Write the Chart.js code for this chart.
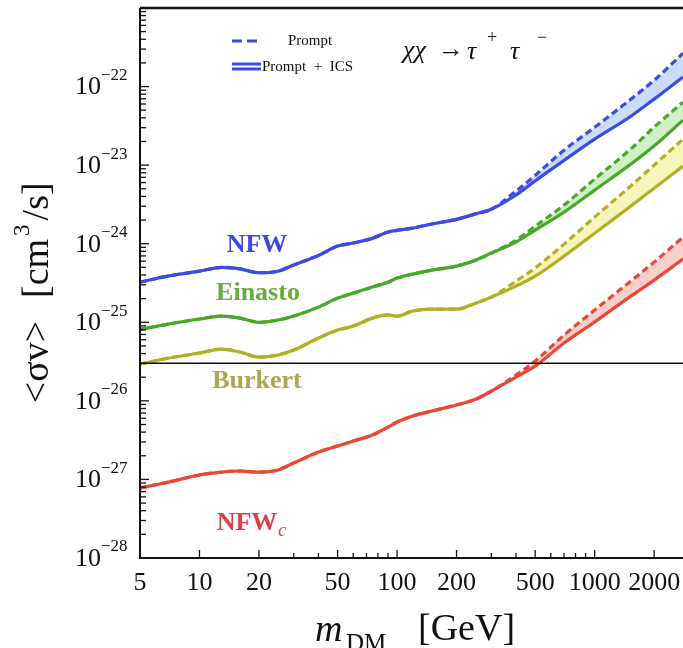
<!DOCTYPE html>
<html>
<head>
<meta charset="utf-8">
<script src="https://cdn.jsdelivr.net/npm/chart.js@4.4.1/dist/chart.umd.min.js"></script>
<style>
  html, body { margin: 0; padding: 0; background: #fff; }
  #limits { display: block; }
</style>
</head>
<body>
<canvas id="limits" width="683" height="648"></canvas>
<script>
// DM mass grid [GeV]
const masses = [5, 7, 10, 13, 16, 20, 25, 30, 40, 50, 60, 75, 90, 100, 120, 150, 200, 250, 300, 400, 500, 700, 1000, 1500, 2000, 2800];

// <sigma v> limits [cm^3/s], prompt + ICS (solid) and prompt only (dashed)
const nfwICS = [3.24e-25, 3.89e-25, 4.47e-25, 5.01e-25, 4.79e-25, 4.27e-25, 4.47e-25, 5.37e-25, 7.08e-25, 9.33e-25, 1.02e-24, 1.17e-24, 1.41e-24, 1.48e-24, 1.58e-24, 1.78e-24, 2.04e-24, 2.40e-24, 2.75e-24, 4.17e-24, 6.31e-24, 1.15e-23, 2.14e-23, 4.07e-23, 6.92e-23, 1.32e-22];
const nfwPrompt = [3.24e-25, 3.89e-25, 4.47e-25, 5.01e-25, 4.79e-25, 4.27e-25, 4.47e-25, 5.37e-25, 7.08e-25, 9.33e-25, 1.02e-24, 1.17e-24, 1.41e-24, 1.48e-24, 1.58e-24, 1.78e-24, 2.04e-24, 2.40e-24, 2.75e-24, 4.68e-24, 7.40e-24, 1.55e-23, 3.03e-23, 6.70e-23, 1.20e-22, 2.66e-22];

const einastoICS = [8.1e-26, 9.5e-26, 1.10e-25, 1.20e-25, 1.13e-25, 1.00e-25, 1.07e-25, 1.20e-25, 1.56e-25, 2.03e-25, 2.35e-25, 2.81e-25, 3.24e-25, 3.65e-25, 4.10e-25, 4.61e-25, 5.19e-25, 6.18e-25, 7.59e-25, 1.05e-24, 1.49e-24, 2.52e-24, 4.81e-24, 1.00e-23, 1.75e-23, 3.74e-23];
const einastoPrompt = [8.1e-26, 9.5e-26, 1.10e-25, 1.20e-25, 1.13e-25, 1.00e-25, 1.07e-25, 1.20e-25, 1.56e-25, 2.03e-25, 2.35e-25, 2.81e-25, 3.24e-25, 3.65e-25, 4.10e-25, 4.61e-25, 5.19e-25, 6.18e-25, 7.59e-25, 1.11e-24, 1.67e-24, 3.10e-24, 6.64e-24, 1.55e-23, 3.04e-23, 6.34e-23];

const burkertICS = [2.94e-26, 3.51e-26, 4.06e-26, 4.56e-26, 4.18e-26, 3.61e-26, 3.83e-26, 4.43e-26, 6.30e-26, 7.96e-26, 8.95e-26, 1.13e-25, 1.24e-25, 1.20e-25, 1.39e-25, 1.47e-25, 1.47e-25, 1.75e-25, 2.09e-25, 2.89e-25, 3.87e-25, 6.95e-25, 1.36e-24, 2.92e-24, 5.09e-24, 9.71e-24];
const burkertPrompt = [2.94e-26, 3.51e-26, 4.06e-26, 4.56e-26, 4.18e-26, 3.61e-26, 3.83e-26, 4.43e-26, 6.30e-26, 7.96e-26, 8.95e-26, 1.13e-25, 1.24e-25, 1.20e-25, 1.39e-25, 1.47e-25, 1.47e-25, 1.75e-25, 2.09e-25, 3.34e-25, 4.90e-25, 9.89e-25, 2.18e-24, 5.25e-24, 1.00e-23, 2.14e-23];

const nfwcICS = [7.78e-28, 9.27e-28, 1.14e-27, 1.24e-27, 1.28e-27, 1.24e-27, 1.32e-27, 1.62e-27, 2.23e-27, 2.66e-27, 3.08e-27, 3.67e-27, 4.64e-27, 5.37e-27, 6.41e-27, 7.42e-27, 8.85e-27, 1.05e-26, 1.33e-26, 2.01e-26, 2.77e-26, 5.44e-26, 1.01e-25, 2.09e-25, 3.44e-25, 6.37e-25];
const nfwcPrompt = [7.78e-28, 9.27e-28, 1.14e-27, 1.24e-27, 1.28e-27, 1.24e-27, 1.32e-27, 1.62e-27, 2.23e-27, 2.66e-27, 3.08e-27, 3.67e-27, 4.64e-27, 5.37e-27, 6.41e-27, 7.42e-27, 8.85e-27, 1.05e-26, 1.33e-26, 2.13e-26, 3.21e-26, 6.87e-26, 1.43e-25, 3.24e-25, 5.83e-25, 1.21e-24];

// thermal relic cross section
const thermal = 3e-26;

// axis ticks
const xLabelTicks = [5, 10, 20, 50, 100, 200, 500, 1000, 2000];
const xMinorTicks = [30, 40, 60, 70, 80, 90, 300, 400, 600, 700, 800, 900];
const yDecades = [-28, -27, -26, -25, -24, -23, -22, -21];

const SERIF = '"Liberation Serif", "DejaVu Serif", serif';
const BLUE = "rgb(58,76,226)", GREEN = "rgb(72,168,42)", OLIVE = "rgb(176,176,34)", RED = "rgb(232,72,52)";

function pts(arr) {
  return masses.map((m, i) => ({ x: m, y: arr[i] }));
}

function solid(arr, color) {
  return { data: pts(arr), borderColor: color, borderWidth: 3.2, pointRadius: 0, fill: false, cubicInterpolationMode: "monotone" };
}
function dashed(arr, color, band) {
  return { data: pts(arr), borderColor: color, borderWidth: 3.2, borderDash: [7, 4], pointRadius: 0, fill: "-1", backgroundColor: band, cubicInterpolationMode: "monotone" };
}

// axes, tick labels, legend and curve names
const decorations = {
  id: "decorations",
  afterDraw(chart) {
    const { ctx, chartArea: a, scales: { x, y } } = chart;
    ctx.save();
    ctx.strokeStyle = "#111";
    ctx.fillStyle = "#111";

    // frame
    ctx.lineWidth = 2.5;
    ctx.beginPath();
    ctx.moveTo(a.left, a.top);
    ctx.lineTo(a.right + 2, a.top);
    ctx.stroke();
    ctx.lineWidth = 2;
    ctx.beginPath();
    ctx.moveTo(a.left, a.top);
    ctx.lineTo(a.left, a.bottom);
    ctx.lineTo(a.right + 2, a.bottom);
    ctx.stroke();

    // y ticks (inside)
    ctx.lineWidth = 1.3;
    yDecades.forEach((e) => {
      const py = y.getPixelForValue(Math.pow(10, e));
      ctx.beginPath();
      ctx.moveTo(a.left, py);
      ctx.lineTo(a.left + 9, py);
      ctx.stroke();
      if (e < -21) {
        for (let k = 2; k <= 9; k++) {
          const my = y.getPixelForValue(k * Math.pow(10, e));
          ctx.beginPath();
          ctx.moveTo(a.left, my);
          ctx.lineTo(a.left + 6, my);
          ctx.stroke();
        }
        ctx.font = "26px " + SERIF;
        ctx.textAlign = "right";
        ctx.textBaseline = "middle";
        ctx.fillText("10", 101, py + 1);
        ctx.font = "17px " + SERIF;
        ctx.textAlign = "left";
        ctx.fillText("\u2212" + (-e), 101, py - 11);
      }
    });

    // x ticks (inside)
    xLabelTicks.forEach((m) => {
      const px = x.getPixelForValue(m);
      ctx.beginPath();
      ctx.moveTo(px, a.bottom);
      ctx.lineTo(px, a.bottom - 8);
      ctx.stroke();
      ctx.font = "26px " + SERIF;
      ctx.textAlign = "center";
      ctx.textBaseline = "middle";
      ctx.fillText(String(m), px, 583);
    });
    xMinorTicks.forEach((m) => {
      const px = x.getPixelForValue(m);
      ctx.beginPath();
      ctx.moveTo(px, a.bottom);
      ctx.lineTo(px, a.bottom - 5);
      ctx.stroke();
    });

    // x title: m_DM [GeV]
    ctx.textAlign = "left";
    ctx.textBaseline = "alphabetic";
    ctx.font = "italic 38px " + SERIF;
    ctx.fillText("m", 315, 641);
    ctx.font = "25px " + SERIF;
    ctx.fillText("DM", 346, 651);
    ctx.font = "38px " + SERIF;
    ctx.fillText("[GeV]", 418, 640);

    // y title: <σv> [cm^3/s]
    ctx.save();
    ctx.translate(38, 0);
    ctx.rotate(-Math.PI / 2);
    ctx.textBaseline = "middle";
    ctx.font = "38px " + SERIF;
    ctx.textAlign = "center";
    ctx.fillText("<\u03c3v>", -362, 0);
    ctx.textAlign = "left";
    let tx = -298;
    ctx.fillText("[cm", tx, 0);
    tx += ctx.measureText("[cm").width;
    ctx.font = "23px " + SERIF;
    ctx.fillText("3", tx + 3, -15);
    tx += ctx.measureText("3").width + 7;
    ctx.font = "38px " + SERIF;
    ctx.fillText("/s]", tx, 0);
    ctx.restore();

    // legend
    ctx.strokeStyle = BLUE;
    ctx.lineWidth = 3;
    ctx.setLineDash([10, 5]);
    ctx.beginPath();
    ctx.moveTo(232, 41);
    ctx.lineTo(259, 41);
    ctx.stroke();
    ctx.setLineDash([]);
    [64, 69].forEach((ly) => {
      ctx.beginPath();
      ctx.moveTo(232, ly);
      ctx.lineTo(261, ly);
      ctx.stroke();
    });
    ctx.fillStyle = "#111";
    ctx.font = "15px " + SERIF;
    ctx.textBaseline = "middle";
    ctx.fillText("Prompt", 288, 41);
    ctx.fillText("Prompt  +  ICS", 262, 67);

    // process
    ctx.font = "italic 26px " + SERIF;
    ctx.fillText("\u03c7\u03c7", 403, 51);
    ctx.font = "26px " + SERIF;
    ctx.fillText("\u2192", 438, 50);
    ctx.font = "italic 26px " + SERIF;
    ctx.fillText("\u03c4", 467, 52);
    ctx.fillText("\u03c4", 510, 52);
    ctx.font = "18px " + SERIF;
    ctx.fillText("+", 487, 38);
    ctx.fillText("\u2212", 537, 38);

    // curve names
    ctx.font = "bold 26px " + SERIF;
    ctx.textAlign = "center";
    ctx.fillStyle = "rgb(62,72,222)";
    ctx.fillText("NFW", 257, 245);
    ctx.fillStyle = "rgb(104,170,62)";
    ctx.fillText("Einasto", 258, 293);
    ctx.fillStyle = "rgb(172,166,84)";
    ctx.fillText("Burkert", 257, 381);
    ctx.fillStyle = "rgb(222,64,72)";
    ctx.fillText("NFW", 247, 523);
    ctx.font = "italic 19px " + SERIF;
    ctx.textAlign = "left";
    ctx.fillText("c", 278, 531);

    ctx.restore();
  },
};

new Chart(document.getElementById("limits"), {
  type: "line",
  data: {
    datasets: [
      { data: [{ x: 5, y: thermal }, { x: 2800, y: thermal }], borderColor: "#111", borderWidth: 1.5, pointRadius: 0, fill: false },
      solid(nfwICS, BLUE),
      dashed(nfwPrompt, BLUE, "rgba(185,208,250,0.75)"),
      solid(einastoICS, GREEN),
      dashed(einastoPrompt, GREEN, "rgba(192,236,180,0.75)"),
      solid(burkertICS, OLIVE),
      dashed(burkertPrompt, OLIVE, "rgba(246,242,170,0.8)"),
      solid(nfwcICS, RED),
      dashed(nfwcPrompt, RED, "rgba(246,192,186,0.75)"),
    ],
  },
  options: {
    responsive: false,
    animation: false,
    layout: { padding: { left: 140, top: 8, right: 0, bottom: 90 } },
    plugins: { legend: { display: false }, tooltip: { enabled: false } },
    scales: {
      x: { type: "logarithmic", min: 5, max: 2800, display: false },
      y: { type: "logarithmic", min: 1e-28, max: 1e-21, display: false },
    },
  },
  plugins: [decorations],
});
</script>
</body>
</html>
